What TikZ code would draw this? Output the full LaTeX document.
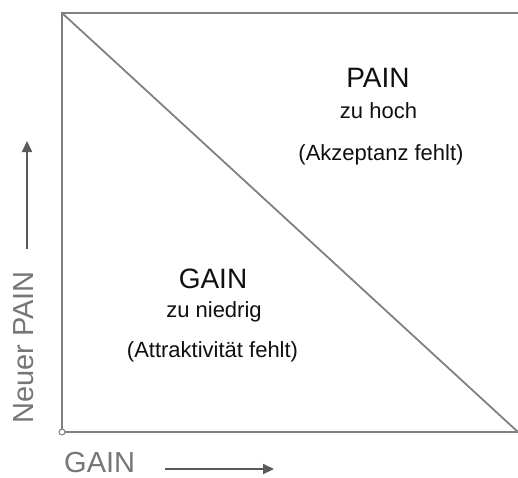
\documentclass[tikz,border=0pt]{standalone}
\usepackage{fontspec}
\setmainfont{Liberation Sans}
\usetikzlibrary{arrows.meta}
\definecolor{linegray}{RGB}{128,128,128}
\definecolor{axisgray}{RGB}{118,118,118}
\definecolor{arrowgray}{RGB}{90,90,90}
\definecolor{textblack}{RGB}{15,15,15}
\begin{document}
\begin{tikzpicture}[x=1pt,y=-1pt,
  frame/.style={draw=linegray,line width=2pt},
  diag/.style={draw=linegray,line width=1.8pt},
  axarrow/.style={draw=arrowgray,line width=2pt,-{Triangle[length=11pt,width=10pt]}},
  big/.style={anchor=base,text=textblack,font=\fontsize{28}{28}\selectfont,inner sep=0pt},
  small/.style={anchor=base,text=textblack,font=\fontsize{22}{22}\selectfont,inner sep=0pt},
  axislabel/.style={text=axisgray,inner sep=0pt}]
\useasboundingbox (0,0) rectangle (518,477);
\coordinate (tl) at (62,13);
\coordinate (tr) at (518,13);
\coordinate (br) at (518,432);
\coordinate (o) at (62,432);
\draw[frame] (tr) -- (tl) -- (o) -- (br);
\draw[diag] (tl) -- (br);
\node[circle,draw=linegray,fill=white,line width=1pt,minimum size=6pt,inner sep=0pt] (orig) at (o) {};
\node[big] (pain) at (378,87) {PAIN};
\node[small] (zuhoch) at (378.5,118) {zu hoch};
\node[small] (akz) at (381,160) {(Akzeptanz fehlt)};
\node[big] (gain) at (213,288) {GAIN};
\node[small] (zuniedrig) at (214,317) {zu niedrig};
\node[small] (attr) at (212.5,357) {(Attraktivität fehlt)};
\node[axislabel,anchor=base west,text depth=0pt,font=\fontsize{29}{29}\selectfont] (xlabel) at (64,472.5) {GAIN};
\node[axislabel,anchor=base,rotate=90,font=\fontsize{29}{29}\selectfont] (ylabel) at (33,347.5) {Neuer PAIN};
\coordinate (xa1) at (165,469);
\coordinate (xa2) at (274,469);
\coordinate (ya1) at (27,249);
\coordinate (ya2) at (27,141);
\draw[axarrow] (xa1) -- (xa2);
\draw[axarrow] (ya1) -- (ya2);
\end{tikzpicture}
\end{document}
